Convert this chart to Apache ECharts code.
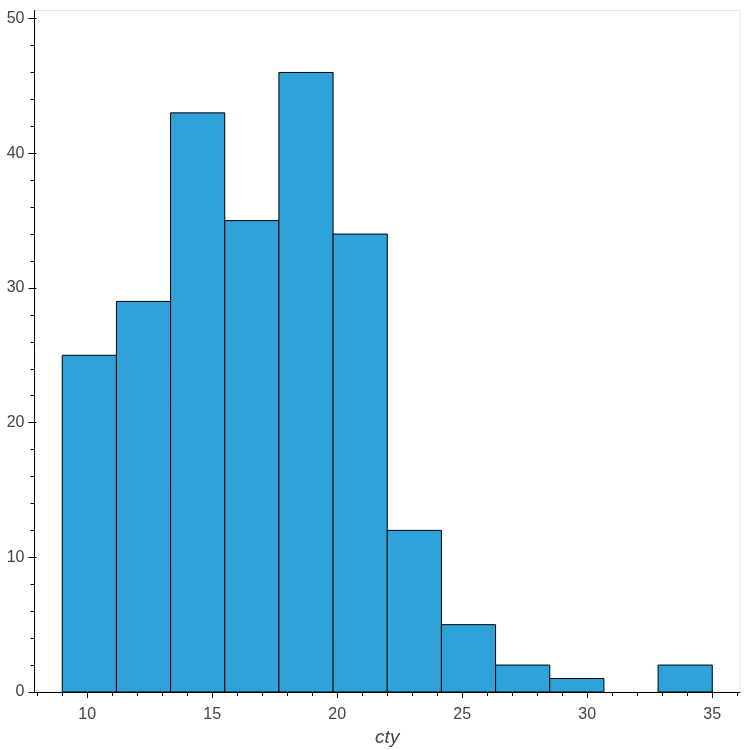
<!DOCTYPE html>
<html>
<head>
<meta charset="utf-8">
<script src="https://cdn.jsdelivr.net/npm/echarts@6/dist/echarts.min.js"></script>
<style>html,body{margin:0;padding:0;background:#fff}#c{width:750px;height:750px}</style>
</head>
<body>
<div id="c"></div>
<script>
var binEdges = [9, 11.1667, 13.3333, 15.5, 17.6667, 19.8333, 22, 24.1667, 26.3333, 28.5, 30.6667, 32.8333, 35];
var counts = [25, 29, 43, 35, 46, 34, 12, 5, 2, 1, 0, 2];
var xMajorTicks = [10, 15, 20, 25, 30, 35];
var xMinorTicks = [8, 9, 11, 12, 13, 14, 16, 17, 18, 19, 21, 22, 23, 24, 26, 27, 28, 29, 31, 32, 33, 34, 36];
var yMajorTicks = [0, 10, 20, 30, 40, 50];
var yMinorTicks = [2, 4, 6, 8, 12, 14, 16, 18, 22, 24, 26, 28, 32, 34, 36, 38, 42, 44, 46, 48];

var XMIN = 7.89, XMAX = 36.11, YMIN = 0, YMAX = 50.6;

var data = counts.map(function (c, i) { return [binEdges[i], binEdges[i + 1], c]; });

function baseX(extra) {
  return Object.assign({
    type: 'value', min: XMIN, max: XMAX, position: 'bottom',
    axisLine: { show: false }, splitLine: { show: false },
    axisLabel: { show: false }, axisTick: { show: false }
  }, extra);
}
function baseY(extra) {
  return Object.assign({
    type: 'value', min: YMIN, max: YMAX, position: 'left',
    axisLine: { show: false }, splitLine: { show: false },
    axisLabel: { show: false }, axisTick: { show: false }
  }, extra);
}
var tickStyle = { color: '#000', width: 1 };
var labelStyle = { color: '#444', fontSize: 16, fontFamily: 'Liberation Sans, Arial, sans-serif' };

var chart = echarts.init(document.getElementById('c'), null, { renderer: 'canvas' });
chart.setOption({
  animation: false,
  grid: { left: 34.5, top: 10.5, right: 10, bottom: 58, containLabel: false, outerBoundsMode: 'none', show: true, borderColor: '#e5e5e5', borderWidth: 1, backgroundColor: 'transparent' },
  xAxis: [
    baseX({
      axisLine: { show: true, onZero: false, lineStyle: { color: '#000', width: 1 } },
      axisTick: { show: true, customValues: xMajorTicks, length: 6, lineStyle: tickStyle },
      axisLabel: Object.assign({ show: true, customValues: xMajorTicks, margin: 15 }, labelStyle),
      name: 'cty', nameLocation: 'middle', nameGap: 36, nameMoveOverlap: false,
      nameTextStyle: { color: '#444', fontSize: 19, fontStyle: 'italic', fontFamily: 'Liberation Sans, Arial, sans-serif', verticalAlign: 'top' }
    }),
    baseX({ axisTick: { show: true, customValues: xMinorTicks, length: 4, lineStyle: tickStyle } }),
    baseX({ axisTick: { show: true, inside: true, customValues: xMajorTicks, length: 2, lineStyle: tickStyle } })
  ],
  yAxis: [
    baseY({
      axisLine: { show: true, onZero: false, lineStyle: { color: '#000', width: 1 } },
      axisTick: { show: true, customValues: yMajorTicks, length: 6, lineStyle: tickStyle },
      axisLabel: Object.assign({ show: true, customValues: yMajorTicks, margin: 10 }, labelStyle)
    }),
    baseY({ axisTick: { show: true, customValues: yMinorTicks, length: 4, lineStyle: tickStyle } }),
    baseY({ axisTick: { show: true, inside: true, customValues: yMajorTicks, length: 2, lineStyle: tickStyle } })
  ],
  series: [{
    type: 'custom',
    xAxisIndex: 0, yAxisIndex: 0,
    data: data,
    encode: { x: [0, 1], y: 2 },
    clip: true,
    renderItem: function (params, api) {
      if (api.value(2) <= 0) return null;
      var p0 = api.coord([api.value(0), api.value(2)]);
      var p1 = api.coord([api.value(1), 0]);
      return {
        type: 'rect',
        shape: { x: p0[0], y: p0[1], width: p1[0] - p0[0], height: p1[1] - p0[1] },
        style: { fill: '#30a2da', stroke: '#000', lineWidth: 1 }
      };
    }
  }]
});
</script>
</body>
</html>
